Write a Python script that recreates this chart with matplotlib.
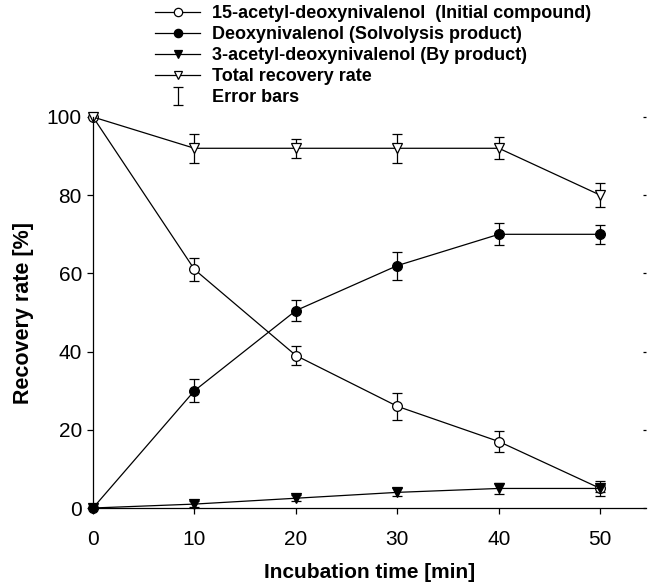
import numpy as np
import matplotlib
matplotlib.use('Agg')
import matplotlib.pyplot as plt
from matplotlib.lines import Line2D

matplotlib.rcParams['font.family'] = ['Liberation Sans', 'DejaVu Sans']

time_min = [0, 10, 20, 30, 40, 50]

adon15 = [100, 61, 39, 26, 17, 5]
adon15_err = [0, 2.9, 2.5, 3.5, 2.8, 2.0]

don = [0, 30, 50.5, 62, 70, 70]
don_err = [0, 3.0, 2.8, 3.6, 2.8, 2.5]

adon3 = [0, 1, 2.5, 4, 5, 5]
adon3_err = [0, 0.7, 0.8, 1.0, 1.3, 1.0]

total = [100, 92, 92, 92, 92, 80]
total_err = [0, 3.7, 2.5, 3.7, 2.8, 3.0]

labels = ['15-acetyl-deoxynivalenol  (Initial compound)',
          'Deoxynivalenol (Solvolysis product)',
          '3-acetyl-deoxynivalenol (By product)',
          'Total recovery rate',
          'Error bars']

fig = plt.figure(figsize=(6.48, 5.86), dpi=100)
ax = fig.add_axes([93 / 648, 1 - 508 / 586, (646 - 93) / 648, (508 - 117) / 586])

common = dict(color='black', ecolor='black', lw=0.9, elinewidth=0.9,
              capsize=3.5, capthick=0.9, markersize=7, markeredgewidth=0.9,
              clip_on=False)

styles = [('o', 'white'), ('o', 'black'), ('v', 'black'), ('v', 'white')]
series = [(adon15, adon15_err), (don, don_err), (adon3, adon3_err), (total, total_err)]

handles = []
for (vals, errs), (mk, fc) in zip(series, styles):
    h = ax.errorbar(time_min, vals, yerr=errs, marker=mk, mfc=fc, mec='black', **common)
    for a in list(h.lines[1]) + list(h.lines[2]):
        a.set_clip_on(False)
    handles.append(Line2D([], [], color='black', lw=0.9, marker=mk, mfc=fc,
                          mec='black', markersize=6, markeredgewidth=0.9))

# legend-only handle for the error bar symbol
heb = ax.errorbar([np.nan], [np.nan], yerr=[1], fmt='none', ecolor='black',
                  elinewidth=0.9, capsize=3.5, capthick=0.9)
handles.append(heb)

ax.set_xlim(0, 54.5)
ax.set_ylim(0, 100)
ax.set_xticks([0, 10, 20, 30, 40, 50])
ax.set_yticks([0, 20, 40, 60, 80, 100])

ax.spines['top'].set_visible(False)
ax.spines['right'].set_visible(False)
ax.spines['left'].set_linewidth(0.9)
ax.spines['bottom'].set_linewidth(0.9)

ax.tick_params(axis='both', direction='out', length=4, width=0.9, labelsize=15)
ax.tick_params(axis='x', pad=12)
ax.tick_params(axis='y', pad=4, right=True)
for t in ax.yaxis.get_major_ticks():
    t.tick2line.set_marker(matplotlib.lines.TICKLEFT)
    t.tick2line.set_markersize(2)

ax.set_xlabel('Incubation time [min]', fontsize=15, fontweight='bold', labelpad=10)
ax.set_ylabel('Recovery rate [%]', fontsize=15.5, fontweight='bold', labelpad=9)

leg = fig.legend(handles, labels, loc='upper left',
                 bbox_to_anchor=(155 / 648, 1 - 5 / 586), frameon=False,
                 prop={'weight': 'bold', 'size': 13}, numpoints=1,
                 handlelength=2.5, handletextpad=0.65, labelspacing=0.22,
                 borderaxespad=0, borderpad=0)

fig.savefig('out.png', dpi=100)
